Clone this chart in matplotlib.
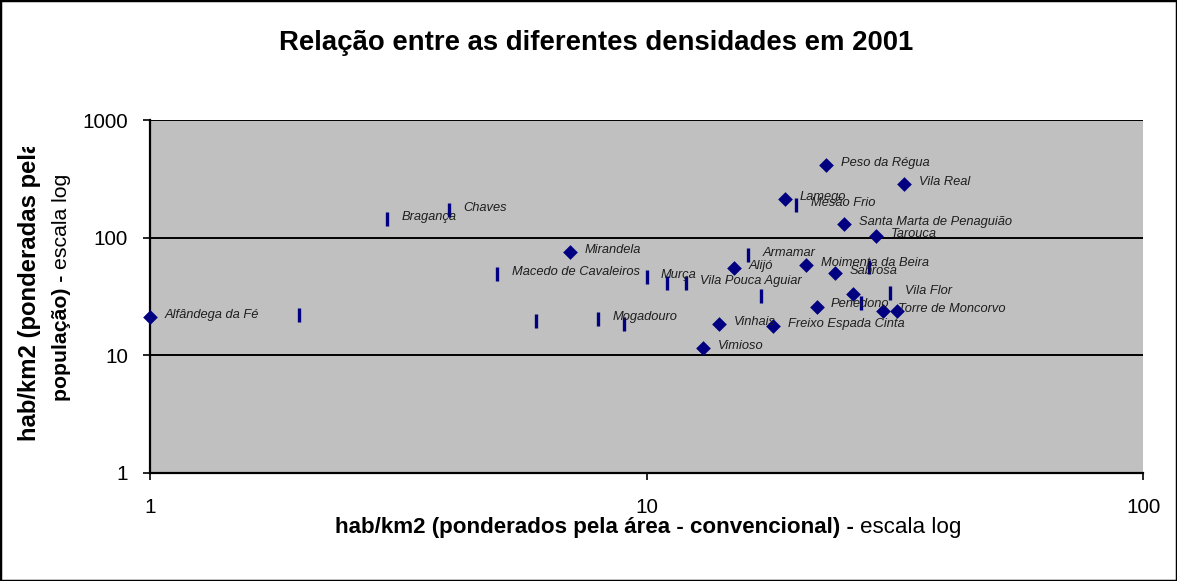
import matplotlib
matplotlib.use('Agg')
import matplotlib.pyplot as plt
from matplotlib.transforms import IdentityTransform, Bbox
from matplotlib.patches import Rectangle
from matplotlib.ticker import FixedLocator, FixedFormatter, NullLocator

plt.rcParams['font.family'] = ['Liberation Sans', 'DejaVu Sans']

# ---------------- data ----------------
names_diamond = ["Alfândega da Fé", "Mirandela", "Vimioso", "Vinhais", "Alijó",
                 "Freixo Espada Cinta", "Lamego", "Moimenta da Beira", "Penedono",
                 "Peso da Régua", "Sabrosa", "Santa Marta de Penaguião", "",
                 "Tarouca", "Torre de Moncorvo", "", "Vila Real"]
x_diamond = [1, 7, 13, 14, 15, 18, 19, 21, 22, 23, 24, 25, 26, 29, 30, 32, 33]
y_diamond = [21, 75, 11.5, 18.3, 55, 17.6, 214, 59, 26, 411, 50, 130, 33,
             103, 23.6, 23.6, 288]

names_bar = ["", "Bragança", "Chaves", "Macedo de Cavaleiros", "", "Mogadouro", "",
             "Murça", "", "Vila Pouca Aguiar", "Armamar", "", "Mesão Frio", "", "",
             "Vila Flor"]
x_bar = [2, 3, 4, 5, 6, 8, 9, 10, 11, 12, 16, 17, 20, 27, 28, 31]
y_bar = [22, 143, 171, 49, 19.6, 20.2, 18.6, 46, 41, 41, 71, 32, 188, 28, 56, 34]

title = "Relação entre as diferentes densidades em 2001"
xlabel_bold = "hab/km2 (ponderados pela área - convencional) -"
xlabel_normal = "escala log"
ylabel_line1 = "hab/km2 (ponderadas pela"
ylabel_line2_bold = "população) -"
ylabel_line2_normal = "escala log"
xticks = [1, 10, 100]
xtick_labels = ["1", "10", "100"]
yticks = [1, 10, 100, 1000]
ytick_labels = ["1", "10", "100", "1000"]

# ---------------- figure ----------------
W, H = 1177, 581
fig = plt.figure(figsize=(W / 100, H / 100), dpi=100)
fig.patch.set_facecolor('white')

ax = fig.add_axes([150 / W, 1 - 473 / H, 993 / W, 353 / H])
ax.set_facecolor('#c0c0c0')
ax.set_xscale('log')
ax.set_yscale('log')
ax.set_xlim(1, 100)
ax.set_ylim(1, 1000)
ax.xaxis.set_major_locator(FixedLocator(xticks))
ax.xaxis.set_major_formatter(FixedFormatter(xtick_labels))
ax.yaxis.set_major_locator(FixedLocator(yticks))
ax.yaxis.set_major_formatter(FixedFormatter(ytick_labels))
ax.xaxis.set_minor_locator(NullLocator())
ax.yaxis.set_minor_locator(NullLocator())

for s in ['top', 'right']:
    ax.spines[s].set_visible(False)
for s in ['left', 'bottom']:
    ax.spines[s].set_color('black')
    ax.spines[s].set_linewidth(1.6)

ax.grid(axis='y', which='major', color='black', linewidth=1.4)
ax.set_axisbelow(True)
ax.tick_params(axis='both', direction='out', length=5, width=1.2,
               labelsize=14.9, colors='black')
ax.tick_params(axis='y', pad=11)
ax.tick_params(axis='x', pad=13)

navy = '#000080'
ax.plot(x_bar, y_bar, ls='none', marker='|', ms=10, mew=2.4, color=navy,
        zorder=3, clip_on=False)
ax.scatter(x_diamond, y_diamond, marker='D', s=56, color=navy, zorder=4,
           clip_on=False, linewidths=0)

for nm, xv, yv in list(zip(names_diamond, x_diamond, y_diamond)) + \
        list(zip(names_bar, x_bar, y_bar)):
    if nm:
        ax.annotate(nm, (xv, yv), xytext=(10.5, 1.5), textcoords='offset points',
                    fontsize=9.3, style='italic', ha='left', va='center',
                    color='#1e1e1e', zorder=5)

# ---------------- texts ----------------
ident = IdentityTransform()
fig.text(596, H - 43, title, transform=ident, fontsize=19.8, fontweight='bold',
         ha='center', va='center')

renderer = fig.canvas.get_renderer()


def text_width(s, size, weight):
    t = fig.text(0, 0, s, fontsize=size, fontweight=weight, transform=ident)
    w = t.get_window_extent(renderer).width
    t.remove()
    return w


lab_size = 16.1
space_px = 0.278 * lab_size * 100 / 72

# x label (bold + normal), centred under plot area
wb = text_width(xlabel_bold, lab_size, 'bold')
wn = text_width(xlabel_normal, lab_size, 'normal')
total = wb + space_px + wn
x0 = 648 - total / 2
base_y = H - 533
fig.text(x0, base_y, xlabel_bold, transform=ident, fontsize=lab_size,
         fontweight='bold', ha='left', va='baseline')
fig.text(x0 + wb + space_px, base_y, xlabel_normal, transform=ident,
         fontsize=lab_size, fontweight='normal', ha='left', va='baseline')

# y label, two rotated lines, first one clipped at the top
y1size = 17.2
t1 = fig.text(36, H - 441, ylabel_line1, transform=ident, fontsize=y1size,
              fontweight='bold', rotation=90, rotation_mode='anchor',
              ha='left', va='baseline')
t1.set_clip_box(Bbox.from_extents(0, 0, W, H - 147))
t1.set_clip_on(True)

y2size = 15.3
wb2 = text_width(ylabel_line2_bold, y2size, 'bold')
sp2 = 0.278 * y2size * 100 / 72
fig.text(67, H - 401, ylabel_line2_bold, transform=ident, fontsize=y2size,
         fontweight='bold', rotation=90, rotation_mode='anchor',
         ha='left', va='baseline')
fig.text(67, H - 401 + wb2 + sp2, ylabel_line2_normal, transform=ident,
         fontsize=y2size, fontweight='normal', rotation=90,
         rotation_mode='anchor', ha='left', va='baseline')

# outer border
fig.patches.append(Rectangle((0, 0), 1, 1, transform=fig.transFigure,
                             fill=False, edgecolor='black', linewidth=2.5))

fig.savefig('out.png', dpi=100)
